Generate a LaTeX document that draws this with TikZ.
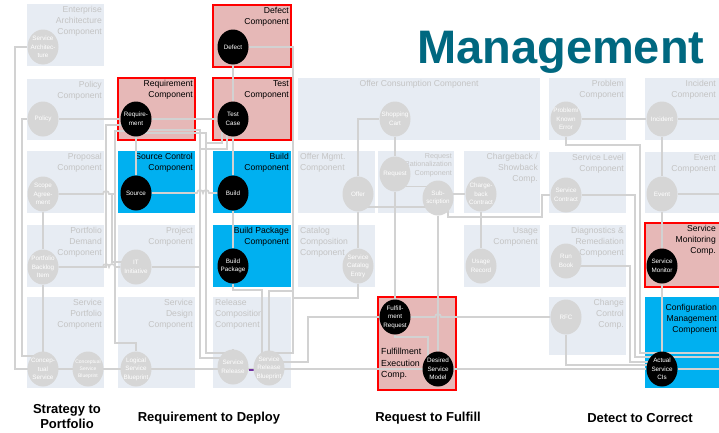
\documentclass[tikz,border=0pt]{standalone}
\usepackage{fontspec}
\setmainfont{Liberation Sans}
\usetikzlibrary{shapes.geometric,calc}
\definecolor{boxg}{RGB}{231,236,243}
\definecolor{txtg}{RGB}{196,196,196}
\definecolor{circg}{RGB}{214,214,214}
\definecolor{lineg}{RGB}{210,210,210}
\definecolor{pinkf}{RGB}{230,184,183}
\definecolor{redb}{RGB}{255,0,0}
\definecolor{blueb}{RGB}{0,176,240}
\definecolor{titlec}{RGB}{0,104,128}
\definecolor{markp}{RGB}{112,48,160}
\pgfdeclarelayer{boxlayer}
\pgfdeclarelayer{linklayer}
\pgfsetlayers{boxlayer,linklayer,main}
\newcommand\mkbox[6]{\node[#2, anchor=north west, minimum width={(#5-#3)*1pt}, minimum height={(#6-#4)*1pt}] (#1) at (#3,#4) {};}
\begin{document}
\begin{tikzpicture}[x=1pt,y=-1pt,
  gbox/.style={fill=boxg, draw=none, inner sep=0pt, outer sep=0pt},
  rbox/.style={fill=pinkf, draw=redb, line width=2.2pt, inner sep=0pt, outer sep=0pt},
  bbox/.style={fill=blueb, draw=none, inner sep=0pt, outer sep=0pt},
  lab/.style={text=txtg, font=\fontsize{8.6}{11.2}\selectfont, inner sep=2pt},
  labr/.style={lab, anchor=north east, align=right},
  labl/.style={lab, anchor=north west, align=left},
  klab/.style={labr, text=black},
  gc/.style={ellipse, fill=circg, text=white, minimum width=31pt, minimum height=35pt, inner xsep=-8pt, inner ysep=-9pt, align=center, font=\fontsize{6.3}{8.6}\selectfont},
  kc/.style={gc, fill=black},
  conn/.style={draw=lineg, line width=1.7pt},
  foot/.style={font=\fontsize{13}{15}\selectfont\bfseries, align=center, text=black, inner sep=0pt}
]
\useasboundingbox (0,0) rectangle (719,432);
\begin{pgfonlayer}{boxlayer}
\fill[white] (0,0) rectangle (719,432);
\mkbox{ea}{gbox}{27}{4}{104}{66}
\mkbox{polc}{gbox}{27}{79}{104}{140}
\mkbox{propc}{gbox}{27}{151}{104}{213}
\mkbox{pdc}{gbox}{27}{225}{104}{287}
\mkbox{spc}{gbox}{27}{297}{104}{388}
\mkbox{reqc}{rbox}{118}{78}{195}{140}
\mkbox{scc}{bbox}{118}{151}{195}{213}
\mkbox{projc}{gbox}{118}{225}{195}{287}
\mkbox{sdc}{gbox}{118}{297}{195}{388}
\mkbox{defc}{rbox}{213}{5}{291}{67}
\mkbox{testc}{rbox}{213}{78}{291}{140}
\mkbox{buildc}{bbox}{213}{151}{291}{213}
\mkbox{bpc}{bbox}{213}{225}{291}{287}
\mkbox{rcc}{gbox}{213}{297}{291}{388}
\mkbox{occ}{gbox}{298}{78}{540}{140}
\mkbox{omc}{gbox}{298}{151}{375}{213}
\mkbox{rrc}{gbox}{378}{151}{454}{213}
\mkbox{cbc}{gbox}{464}{151}{540}{213}
\mkbox{catc}{gbox}{298}{225}{375}{287}
\mkbox{usec}{gbox}{464}{225}{540}{287}
\mkbox{fec}{rbox}{378}{297}{456}{390}
\mkbox{probc}{gbox}{549}{78}{626}{140}
\mkbox{incc}{gbox}{645}{78}{724}{140}
\mkbox{slc}{gbox}{549}{152}{626}{213}
\mkbox{evc}{gbox}{645}{152}{724}{213}
\mkbox{drc}{gbox}{549}{225}{626}{287}
\mkbox{smc}{rbox}{645}{223}{724}{287}
\mkbox{chc}{gbox}{549}{297}{626}{355}
\mkbox{cmc}{bbox}{645}{297}{724}{388}
\node[labr] (l-ea) at (ea.north east) {Enterprise\\Architecture\\Component};
\node[labr] (l-pol) at (polc.north east) {Policy\\Component};
\node[labr] (l-prop) at (propc.north east) {Proposal\\Component};
\node[labr] (l-pd) at (pdc.north east) {Portfolio\\Demand\\Component};
\node[labr] (l-sp) at (spc.north east) {Service\\Portfolio\\Component};
\node[klab] (l-req) at (reqc.north east) {Requirement\\Component};
\node[klab] (l-scc) at (scc.north east) {Source Control\\Component};
\node[labr] (l-proj) at (projc.north east) {Project\\Component};
\node[labr] (l-sd) at (sdc.north east) {Service\\Design\\Component};
\node[klab] (l-def) at (defc.north east) {Defect\\Component};
\node[klab] (l-test) at (testc.north east) {Test\\Component};
\node[klab] (l-bld) at (buildc.north east) {Build\\Component};
\node[klab] (l-bp) at (bpc.north east) {Build Package\\Component};
\node[labl] (l-rc) at (rcc.north west) {Release\\Composition\\Component};
\node[lab, anchor=north] (l-oc) at (occ.north) {Offer Consumption Component};
\node[labl] (l-om) at (omc.north west) {Offer Mgmt.\\Component};
\node[labr, font=\fontsize{7.2}{8.8}\selectfont] (l-rr) at (rrc.north east) {Request\\Rationalization\\Component};
\node[labr] (l-cb) at (cbc.north east) {Chargeback /\\Showback\\Comp.};
\node[labl] (l-cat) at (catc.north west) {Catalog\\Composition\\Component};
\node[labr] (l-use) at (usec.north east) {Usage\\Component};
\node[anchor=west, align=left, font=\fontsize{8.8}{11.7}\selectfont, inner sep=0pt] (l-fe) at (381,364) {Fulfillment\\Execution\\Comp.};
\node[labr] (l-prob) at (probc.north east) {Problem\\Component};
\node[labr] (l-inc) at ($(incc.north east)+(-6,0)$) {Incident\\Component};
\node[labr] (l-sl) at (slc.north east) {Service Level\\Component};
\node[labr] (l-ev) at ($(evc.north east)+(-6,0)$) {Event\\Component};
\node[labr] (l-dr) at (drc.north east) {Diagnostics \&\\Remediation\\Component};
\node[klab] (l-sm) at ($(smc.north east)+(-6,0)$) {Service\\Monitoring\\Comp.};
\node[labr] (l-ch) at (chc.north east) {Change\\Control\\Comp.};
\node[klab] (l-cm) at ($(cmc.north east)+(-5,5)$) {Configuration\\Management\\Component};
\end{pgfonlayer}
% circles
\node[gc] (sa) at (43,47) {Service\\Architec-\\ture};
\node[gc] (po) at (43,119) {Policy};
\node[gc] (sag) at (43,194) {Scope\\Agree-\\ment};
\node[gc] (pbi) at (43,267) {Portfolio\\Backlog\\Item};
\node[gc] (cs) at (43,369) {Concep-\\tual\\Service};
\node[gc, font=\fontsize{5}{7}\selectfont] (csb) at (88,369) {Conceptual\\Service\\Blueprint};
\node[kc] (req) at (136,119) {Require-\\ment};
\node[kc] (src) at (136,193) {Source};
\node[gc] (iti) at (136,267) {IT\\Initiative};
\node[gc] (lsb) at (136,369) {Logical\\Service\\Blueprint};
\node[kc] (def) at (233,47) {Defect};
\node[kc] (tc) at (233,119) {Test\\Case};
\node[kc] (bld) at (233,193) {Build};
\node[kc] (bp) at (233,266) {Build\\Package};
\node[gc] (sr) at (233,367) {Service\\Release};
\node[gc] (srb) at (269,368) {Service\\Release\\Blueprint};
\node[gc] (shc) at (395,119) {Shopping\\Cart};
\node[gc] (off) at (358,194) {Offer};
\node[gc] (rq) at (395,174) {Request};
\node[gc] (sub) at (438,198) {Sub-\\scription};
\node[gc] (cbk) at (481,194) {Charge-\\back\\Contract};
\node[gc] (sce) at (358,266) {Service\\Catalog\\Entry};
\node[gc] (ur) at (481,266) {Usage\\Record};
\node[kc] (fr) at (395,317) {Fulfill-\\ment\\Request};
\node[kc] (dsm) at (438,369) {Desired\\Service\\Model};
\node[gc] (pke) at (566,119) {Problem/\\Known\\Error};
\node[gc] (inc) at (662,119) {Incident};
\node[gc] (scn) at (566,195) {Service\\Contract};
\node[gc] (ev) at (662,194) {Event};
\node[gc] (rb) at (566,261) {Run\\Book};
\node[kc] (smn) at (662,266) {Service\\Monitor};
\node[gc] (rfc) at (566,317) {RFC};
\node[kc] (asc) at (662,369) {Actual\\Service\\CIs};
\coordinate (eA) at (725,369);
\coordinate (eB) at (725,119);
\coordinate (eC) at (725,194);
\coordinate (eD) at (725,353);
\coordinate (eE) at (725,357);
\begin{pgfonlayer}{linklayer}
\draw[conn] (sa) -| (15,369) -- (asc) -- (eA);
\draw[conn] (po) -| (22,356) -| (cs);
\draw[conn] (po) -- (req);
\draw[conn] (sag) -- (pbi) -- (cs);
\draw[conn] (sag) -- (103,194) arc[start angle=180, end angle=360, radius=3] -| (115,131) -| (req);
\draw[conn] (pbi) -| (106,125) -| (req);
\draw[conn] (pbi) -- (103,267) arc[start angle=180, end angle=360, radius=3] -- (109,267) arc[start angle=180, end angle=360, radius=3] -- (iti);
\draw[conn] (115,194) |- (136,343) -- (lsb);
\draw[conn] (112,194) -- (112,262) -- ($(iti)+(0,-5)$);
\draw[conn] (iti) -| (200,358) -| (sr);
\draw[conn] ($(req)+(0,11)$) -| (200,267);
\draw[conn] ($(req)+(0,14)$) -| (206,353) -| (sr);
\draw[conn] (def) -- (tc) -- (bld) -- (bp);
\draw[conn] (req) -- (tc);
\draw[conn] (req) -- (src);
\draw[conn] (src) -- (197,193) arc[start angle=180, end angle=360, radius=3] -- (203,193) arc[start angle=180, end angle=360, radius=3] -- (bld);
\draw[conn] (tc.south west) |- (206,143);
\draw[conn] (tc.250) |- (200,149);
\draw[conn] (bp) |- (262,290) -- ($(srb)+(-7,0)$);
\draw[conn] (def) -| (293,353) -| (srb);
\draw[conn] (293,291) -| (srb);
\draw[conn] (sce) |- (293,298);
\draw[conn] (fr) -| (308,362) -| (srb);
\draw[markp, line width=2pt] ($(sr)!0.5!(srb)$) ++(-2.5,2) -- ++(5,0);
\draw[conn] (shc) -- (rq) -- (fr);
\draw[conn] (off) |- (shc);
\draw[conn] (off) -- (sce);
\draw[conn] (rq.south east) -- (sub |- rq.south east);
\draw[conn] (sub |- cbk) -- (cbk);
\draw[conn] (sub) -- (dsm);
\draw[conn] ($(off)+(0,13)$) -- ($(sub)+(0,9)$);
\draw[conn] ($(sub)+(10,0)$) |- (542,217) |- (scn);
\draw[conn] (cbk) -- (ur);
\draw[conn] (fr) -- (435,317) arc[start angle=180, end angle=360, radius=3] -- (rfc);
\draw[conn] (fr) |- ($(dsm)+(-10,-32)$) -- ($(dsm)+(-10,0)$);
\draw[conn] (pke) -- (inc) -- (eB);
\draw[conn] (inc) -- (ev) -- (smn) -- (asc);
\draw[conn] (ev) -- (eC);
\draw[conn] (pke) |- (640,145) |- (eD);
\draw[conn] (scn) -| (635,357) -- (eE);
\draw[conn] ($(rb)+(0,5)$) -| (630,362) -| (asc);
\draw[conn] (rfc) |- ($(asc)+(-12,-4)$);
\end{pgfonlayer}
% title and footers
\node[anchor=base west, text=titlec, font=\fontsize{47}{50}\selectfont\bfseries, inner sep=0pt] (ttl) at (417,63) {Management};
\node[foot] (f1) at (67,417) {Strategy to\\Portfolio};
\node[foot] (f2) at (209,418) {Requirement to Deploy};
\node[foot] (f3) at (428,418) {Request to Fulfill};
\node[foot] (f4) at (640,418) {Detect to Correct};
\end{tikzpicture}
\end{document}
